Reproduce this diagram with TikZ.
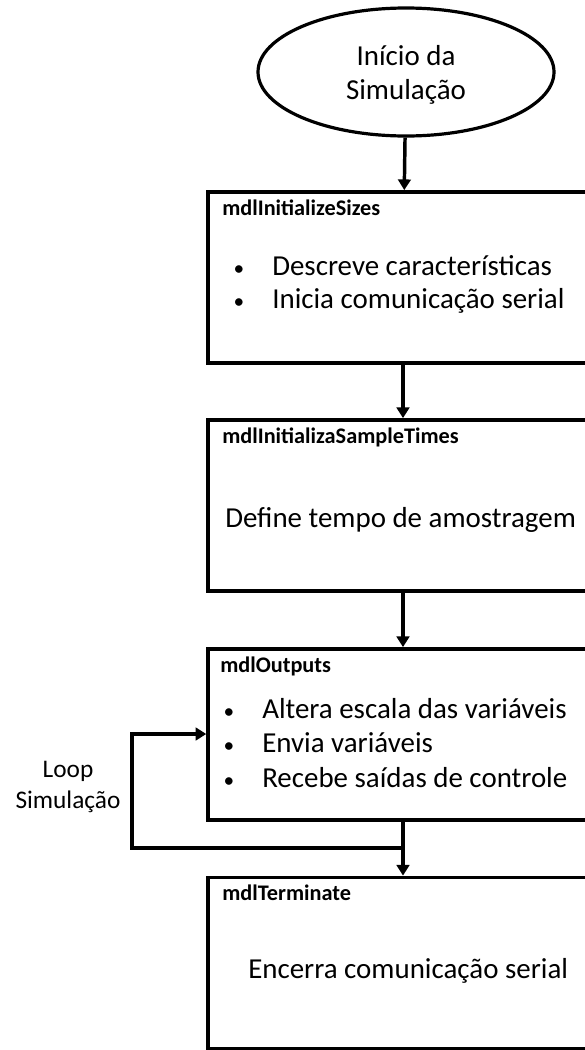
\documentclass[tikz,border=0pt]{standalone}
\usepackage{fontspec}
\setmainfont{Carlito}
\usetikzlibrary{positioning,shapes.geometric,arrows.meta}

\begin{document}
\begin{tikzpicture}[x=0.75pt,y=-0.75pt,
	blocco/.style={draw, line width=2.6pt, rectangle, minimum width=292.5pt, minimum height=128.5pt, inner sep=0pt},
	inizio/.style={draw, line width=2.4pt, ellipse, minimum width=222pt, minimum height=96pt, inner sep=0pt, text depth=0pt, align=center, font=\fontsize{21.7}{25.5}\selectfont},
	titolo/.style={anchor=base west, inner sep=0pt, font=\fontsize{16.7}{20}\selectfont\bfseries},
	testo/.style={anchor=base west, inner sep=0pt, font=\fontsize{21.7}{26}\selectfont},
	voce/.style={testo, execute at begin node={\llap{{\fontsize{16}{16}\selectfont\textbullet}\hspace{21pt}}}},
	flusso/.style={line width=2.6pt, -{Triangle[width=9.5pt,length=8pt]}},
	ritorno/.style={align=center, inner sep=0pt, font=\fontsize{19}{23}\selectfont}]
	\useasboundingbox (0,0) rectangle (585,1050);
	
	% Inizio
	\node[inizio] (inizio) at (406,72) {Início da\\Simulação};
	
	% Blocchi
	\node[blocco] (sizes) at (403,277.5) {};
	\node[blocco] (sample) at (403,505.5) {};
	\node[blocco] (outputs) at (403,734.5) {};
	\node[blocco] (terminate) at (403,963) {};
	
	% Titoli dei blocchi
	\node[titolo] (tsizes) at (222,215) {mdlInitializeSizes};
	\node[titolo] (tsample) at (222,443) {mdlInitializaSampleTimes};
	\node[titolo] (toutputs) at (220,672) {mdlOutputs};
	\node[titolo] (tterminate) at (222,900) {mdlTerminate};
	
	% Testi dei blocchi
	\node[voce] (s1) at (272,275) {Descreve características};
	\node[voce] (s2) at (272,308) {Inicia comunicação serial};
	\node[testo] (a1) at (225,527) {Define tempo de amostragem};
	\node[voce] (o1) at (262,718) {Altera escala das variáveis};
	\node[voce] (o2) at (262,752) {Envia variáveis};
	\node[voce] (o3) at (262,787) {Recebe saídas de controle};
	\node[testo] (e1) at (248,978) {Encerra comunicação serial};
	
	% Frecce
	\draw[flusso] (inizio) -- (sizes);
	\draw[flusso] (sizes) -- (sample);
	\draw[flusso] (sample) -- (outputs);
	\draw[flusso] (outputs) -- (terminate);
	
	% Ciclo di simulazione
	\coordinate (split) at (403,848);
	\coordinate (back) at (132,734);
	\draw[flusso] (split) -| (back) -- (back -| outputs.west);
	\node[ritorno] (loop) at (68,787) {Loop\\Simulação};
\end{tikzpicture}
\end{document}
